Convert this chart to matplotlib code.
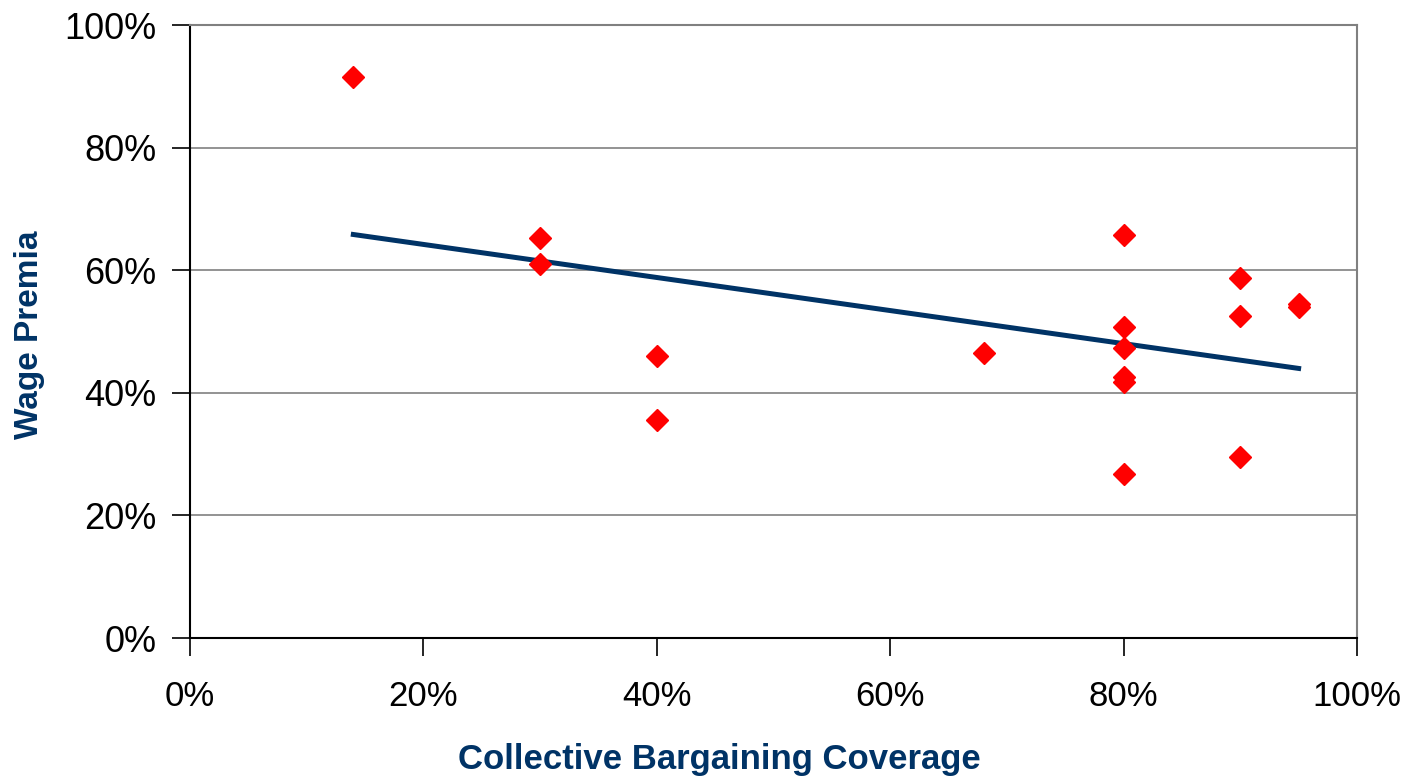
import numpy as np
import matplotlib
matplotlib.use("Agg")
import matplotlib.pyplot as plt
from matplotlib.ticker import PercentFormatter

# data (percent)
coverage = [14, 30, 30, 40, 40, 68, 80, 80, 80, 80, 80, 80, 90, 90, 90, 95, 95]
wage_premia = [91.5, 65.2, 61.0, 46.0, 35.6, 46.5, 65.7, 50.7, 47.3, 42.5, 41.8, 26.8,
               58.7, 52.5, 29.5, 54.5, 54.0]
ticks = [0, 20, 40, 60, 80, 100]

plt.rcParams['font.family'] = ['Liberation Sans', 'DejaVu Sans']
NAVY = '#003366'

fig = plt.figure(figsize=(14.04, 7.79), dpi=100)
ax = fig.add_axes([0.1353, 0.181, 0.8312, 0.7869])

ax.set_xlim(0, 100)
ax.set_ylim(0, 100)
ax.set_xticks(ticks)
ax.set_yticks(ticks)
ax.xaxis.set_major_formatter(PercentFormatter(decimals=0))
ax.yaxis.set_major_formatter(PercentFormatter(decimals=0))
ax.tick_params(axis='both', length=13, width=1.2, color='black', direction='out')
ax.tick_params(axis='x', labelsize=25, pad=17)
ax.tick_params(axis='y', labelsize=26, pad=11)

ax.grid(axis='y', color='#808080', linewidth=1.2)
ax.set_axisbelow(True)
for side in ['top', 'right']:
    ax.spines[side].set_color('#808080')
    ax.spines[side].set_linewidth(1.5)
for side in ['left', 'bottom']:
    ax.spines[side].set_color('black')
    ax.spines[side].set_linewidth(1.5)

# linear trend line
x = np.array(coverage, dtype=float)
y = np.array(wage_premia, dtype=float)
slope, icpt = np.polyfit(x, y, 1)
xs = np.array([x.min(), x.max()])
ax.plot(xs, slope * xs + icpt, color=NAVY, linewidth=3.6, zorder=2)

ax.plot(coverage, wage_premia, linestyle='none', marker='D', markersize=11,
        color='#ff0000', markeredgecolor='#ff0000', zorder=3, clip_on=False)

ax.set_xlabel('Collective Bargaining Coverage', fontsize=25, fontweight='bold', color=NAVY)
ax.xaxis.set_label_coords(0.454, -0.172)
ax.set_ylabel('Wage Premia', fontsize=24, fontweight='bold', color=NAVY)
ax.yaxis.set_label_coords(-0.124, 0.494)

fig.savefig('out.png', dpi=100)
